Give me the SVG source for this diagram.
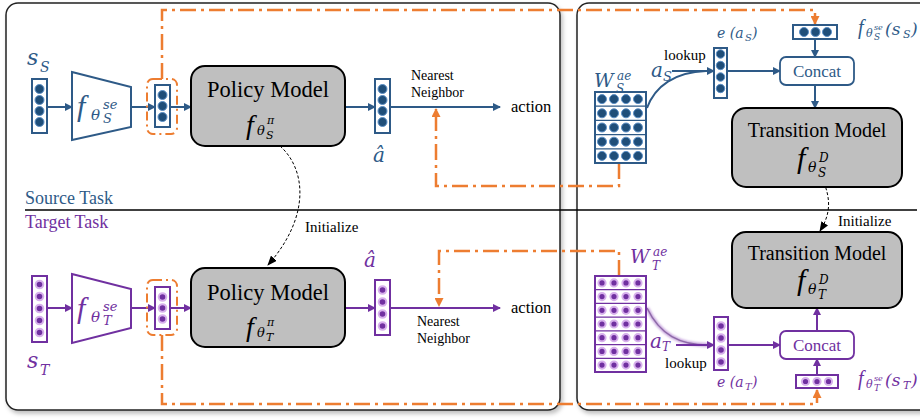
<svg xmlns="http://www.w3.org/2000/svg" width="920" height="419" viewBox="0 0 920 419">
<defs>
<filter id="sh" x="-5%" y="-5%" width="110%" height="110%"><feDropShadow dx="2" dy="3" stdDeviation="2" flood-color="#000" flood-opacity="0.25"/></filter>
<filter id="glow" x="-20%" y="-20%" width="140%" height="140%"><feGaussianBlur stdDeviation="1.2"/></filter>
<marker id="ab" markerWidth="8" markerHeight="8" refX="7" refY="4" orient="auto" markerUnits="userSpaceOnUse"><path d="M0,0 L8,4 L0,8 Z" fill="#2e5a87"/></marker>
<marker id="ap" markerWidth="8" markerHeight="8" refX="7" refY="4" orient="auto" markerUnits="userSpaceOnUse"><path d="M0,0 L8,4 L0,8 Z" fill="#7030a0"/></marker>
<marker id="ao" markerWidth="9" markerHeight="9" refX="8" refY="4.5" orient="auto" markerUnits="userSpaceOnUse"><path d="M0,0 L9,4.5 L0,9 Z" fill="#ed7d31"/></marker>
<marker id="ak" markerWidth="10" markerHeight="8" refX="9" refY="4" orient="auto" markerUnits="userSpaceOnUse"><path d="M0,0 L10,4 L0,8 Z" fill="#000"/></marker>
</defs>
<style>
.panel{fill:#fff;stroke:#222;stroke-width:1.5}
.box{fill:#bfbfbf;stroke:#000;stroke-width:2}
.vb{fill:#fff;stroke:#2e5a87;stroke-width:2}
.vp{fill:#fff;stroke:#7030a0;stroke-width:2}
.db{fill:#1f4e79;stroke:#5b8fc7;stroke-width:1}
.dp{fill:#7030a0;stroke:#d7b0ec;stroke-width:2}
.eb{stroke:#2e5a87;stroke-width:2;fill:none;marker-end:url(#ab)}
.ep{stroke:#7030a0;stroke-width:2;fill:none;marker-end:url(#ap)}
.or{stroke:#ed7d31;stroke-width:2.5;fill:none;stroke-dasharray:16 5 3 5}
.orb{stroke:#ed7d31;stroke-width:2;fill:none;stroke-dasharray:9 4 2 4}
.init{stroke:#000;stroke-width:1;fill:none;stroke-dasharray:3 2;marker-end:url(#ak)}
.t{font-family:"Liberation Serif","Times New Roman",serif;fill:#000}
.m{font-family:"DejaVu Serif",serif;font-style:italic}
.f{font-family:"Liberation Serif",serif;font-style:italic}
.mb{fill:#2e5a87}
.mp{fill:#7030a0}
.row{stroke-width:1.2}
</style>

<!-- panels -->
<g id="left-panel"><rect class="panel" x="6" y="3" width="554" height="407" rx="12" filter="url(#sh)"/></g>
<g id="right-panel"><rect class="panel" x="577" y="3" width="370" height="407" rx="12" filter="url(#sh)"/></g>
<line x1="25" y1="210" x2="917" y2="210" stroke="#000" stroke-width="1.5"/>
<text class="t" x="25" y="204" font-size="18" style="fill:#2e5a87">Source Task</text>
<text class="t" x="25" y="228" font-size="18" style="fill:#7030a0">Target Task</text>

<!-- connectors -->
<g id="connectors">
<line class="eb" x1="47" y1="107" x2="72" y2="107"/>
<line class="eb" x1="131" y1="107" x2="155" y2="107"/>
<line class="eb" x1="170" y1="107" x2="191" y2="107"/>
<line class="eb" x1="345" y1="107" x2="375" y2="107"/>
<line class="eb" x1="390" y1="107" x2="500" y2="107"/>
<line class="eb" x1="672" y1="71" x2="714" y2="71"/>
<path d="M647,108 C655,86 675,72 706,71" stroke="#2e5a87" stroke-width="2" fill="none"/>
<line class="eb" x1="727" y1="71" x2="780" y2="71"/>
<line class="eb" x1="815" y1="39" x2="815" y2="57"/>
<line class="eb" x1="815" y1="85" x2="815" y2="108"/>

<line class="ep" x1="47" y1="308" x2="72" y2="308"/>
<line class="ep" x1="131" y1="308" x2="155" y2="308"/>
<line class="ep" x1="170" y1="308" x2="191" y2="308"/>
<line class="ep" x1="345" y1="308" x2="375" y2="308"/>
<line class="ep" x1="390" y1="308" x2="500" y2="308"/>
<path d="M647,308 C660,335 680,345 708,345" stroke="#c8a6de" stroke-width="4" fill="none" filter="url(#glow)"/>
<path d="M647,308 C660,335 680,345 708,345" stroke="#8e6aa8" stroke-width="1.5" fill="none"/>
<line class="ep" x1="676" y1="345" x2="714" y2="345"/>
<line class="ep" x1="728" y1="345" x2="780" y2="345"/>
<line class="ep" x1="817" y1="375" x2="817" y2="359"/>
<line class="ep" x1="817" y1="331" x2="817" y2="308"/>

<path class="or" d="M162,79 V10 H815 V24" marker-end="url(#ao)"/>
<path class="or" d="M619,163 V186 H436 V109" marker-end="url(#ao)"/>
<path class="or" d="M619,276 V251 H439 V306" marker-end="url(#ao)"/>
<path class="or" d="M162,335 V404 H817 V390" marker-end="url(#ao)"/>

<path class="init" d="M280,146 C305,168 312,215 268,265"/>
<path class="init" d="M822,178 C832,200 830,215 820,231"/>
</g>

<!-- source row -->
<g id="s_S">
<text class="m mb" x="27" y="65" font-size="22">s</text><text class="m mb" x="40" y="72" font-size="14">S</text>
<rect class="vb" x="32" y="79" width="15" height="54"/>
<circle class="db" cx="39.5" cy="89" r="4.5"/><circle class="db" cx="39.5" cy="100" r="4.5"/><circle class="db" cx="39.5" cy="111" r="4.5"/><circle class="db" cx="39.5" cy="122" r="4.5"/>
</g>
<g id="encoder_S">
<polygon points="72,72 131,87 131,127 72,140" fill="#fff" stroke="#2e5a87" stroke-width="2"/>
<text class="f mb" x="77" y="116" font-size="30">f</text><text class="m mb" x="91" y="120" font-size="15">θ</text><text class="m mb" x="103" y="109" font-size="13">se</text><text class="m mb" x="103" y="123" font-size="13">S</text>
</g>
<g id="emb_S">
<rect class="orb" x="147" y="79" width="30" height="55" rx="6"/>
<rect class="vb" x="155" y="85" width="15" height="42"/>
<circle class="db" cx="162.5" cy="95" r="4.5"/><circle class="db" cx="162.5" cy="106" r="4.5"/><circle class="db" cx="162.5" cy="117" r="4.5"/>
</g>
<g id="policy_S">
<rect class="box" x="191" y="66" width="154" height="80" rx="14"/>
<text class="t" x="268" y="97" font-size="22.5" text-anchor="middle">Policy Model</text>
<text class="f" x="246" y="134" font-size="28">f</text><text class="m" x="257" y="135" font-size="13">θ</text><text class="m" x="267" y="124" font-size="11">π</text><text class="m" x="266" y="139" font-size="11">S</text>
</g>
<g id="ahat_S">
<rect class="vb" x="375" y="79" width="15" height="54"/>
<circle class="db" cx="382.5" cy="89" r="4.5"/><circle class="db" cx="382.5" cy="100" r="4.5"/><circle class="db" cx="382.5" cy="111" r="4.5"/><circle class="db" cx="382.5" cy="122" r="4.5"/>
<text class="m mb" x="373" y="162" font-size="20">â</text>
</g>
<g id="nn_S">
<text class="t" x="411" y="80" font-size="14">Nearest</text>
<text class="t" x="411" y="97" font-size="14">Neighbor</text>
<text class="t" x="511" y="112" font-size="16.5">action</text>
</g>
<g id="W_S">
<text class="m mb" x="594" y="87" font-size="19">W</text><text class="m mb" x="617" y="80" font-size="12">ae</text><text class="m mb" x="616" y="93" font-size="12">S</text>
<rect class="vb" x="595" y="92" width="51" height="71"/>
<g stroke="#2e5a87" class="row"><line x1="595" y1="106.2" x2="646" y2="106.2"/><line x1="595" y1="120.4" x2="646" y2="120.4"/><line x1="595" y1="134.6" x2="646" y2="134.6"/><line x1="595" y1="148.8" x2="646" y2="148.8"/></g>
<g>
<circle class="db" cx="602" cy="99.1" r="4.5"/><circle class="db" cx="614" cy="99.1" r="4.5"/><circle class="db" cx="626" cy="99.1" r="4.5"/><circle class="db" cx="638" cy="99.1" r="4.5"/>
<circle class="db" cx="602" cy="113.3" r="4.5"/><circle class="db" cx="614" cy="113.3" r="4.5"/><circle class="db" cx="626" cy="113.3" r="4.5"/><circle class="db" cx="638" cy="113.3" r="4.5"/>
<circle class="db" cx="602" cy="127.5" r="4.5"/><circle class="db" cx="614" cy="127.5" r="4.5"/><circle class="db" cx="626" cy="127.5" r="4.5"/><circle class="db" cx="638" cy="127.5" r="4.5"/>
<circle class="db" cx="602" cy="141.7" r="4.5"/><circle class="db" cx="614" cy="141.7" r="4.5"/><circle class="db" cx="626" cy="141.7" r="4.5"/><circle class="db" cx="638" cy="141.7" r="4.5"/>
<circle class="db" cx="602" cy="155.9" r="4.5"/><circle class="db" cx="614" cy="155.9" r="4.5"/><circle class="db" cx="626" cy="155.9" r="4.5"/><circle class="db" cx="638" cy="155.9" r="4.5"/>
</g>
</g>
<g id="lookup_S">
<text class="m mb" x="651" y="77" font-size="20">a</text><text class="m mb" x="663" y="81" font-size="13">S</text>
<text class="t" x="664" y="60" font-size="15">lookup</text>
</g>
<g id="e_S">
<text class="m mb" x="717" y="38" font-size="14">e (a</text><text class="m mb" x="745" y="41" font-size="10">S</text><text class="m mb" x="752" y="38" font-size="14">)</text>
<rect class="vb" x="714" y="48" width="13" height="50"/>
<circle class="db" cx="720.5" cy="54" r="4.2"/><circle class="db" cx="720.5" cy="65.5" r="4.2"/><circle class="db" cx="720.5" cy="77" r="4.2"/><circle class="db" cx="720.5" cy="88.5" r="4.2"/>
</g>
<g id="fs_S">
<rect class="vb" x="793" y="25" width="44" height="14"/>
<circle class="db" cx="804" cy="32" r="4.5"/><circle class="db" cx="815.5" cy="32" r="4.5"/><circle class="db" cx="827" cy="32" r="4.5"/>
<text class="f mb" x="858" y="34" font-size="20">f</text><text class="m mb" x="866" y="37" font-size="11">θ</text><text class="m mb" x="874" y="30" font-size="8">se</text><text class="m mb" x="874" y="40" font-size="9">S</text><text class="m mb" x="885" y="35" font-size="17">(s</text><text class="m mb" x="903" y="38" font-size="11">S</text><text class="m mb" x="911" y="35" font-size="17">)</text>
</g>
<g id="concat_S">
<rect x="780" y="57" width="74" height="28" rx="6" fill="#fff" stroke="#2e5a87" stroke-width="1.8"/>
<text class="t" x="817" y="77" font-size="17" text-anchor="middle" style="fill:#2e5a87">Concat</text>
</g>
<g id="transition_S">
<rect class="box" x="732" y="108" width="170" height="79" rx="14"/>
<text class="t" x="817" y="137" font-size="20" text-anchor="middle">Transition Model</text>
<text class="f" x="797" y="168" font-size="30">f</text><text class="m" x="808" y="172" font-size="14">θ</text><text class="m" x="819" y="162" font-size="12">D</text><text class="m" x="818" y="177" font-size="12">S</text>
</g>

<!-- target row -->
<g id="s_T">
<rect class="vp" x="32" y="276" width="15" height="66"/>
<circle class="dp" cx="39.5" cy="284.5" r="3.8"/><circle class="dp" cx="39.5" cy="296.5" r="3.8"/><circle class="dp" cx="39.5" cy="308.5" r="3.8"/><circle class="dp" cx="39.5" cy="320.5" r="3.8"/><circle class="dp" cx="39.5" cy="332.5" r="3.8"/>
<text class="m mp" x="27" y="368" font-size="22">s</text><text class="m mp" x="40" y="375" font-size="14">T</text>
</g>
<g id="encoder_T">
<polygon points="72,274 131,289 131,328 72,343" fill="#fff" stroke="#7030a0" stroke-width="2"/>
<text class="f mp" x="77" y="318" font-size="30">f</text><text class="m mp" x="91" y="322" font-size="15">θ</text><text class="m mp" x="103" y="311" font-size="13">se</text><text class="m mp" x="103" y="325" font-size="13">T</text>
</g>
<g id="emb_T">
<rect class="orb" x="147" y="280" width="30" height="55" rx="6"/>
<rect class="vp" x="155" y="287" width="15" height="42"/>
<circle class="dp" cx="162.5" cy="297" r="3.8"/><circle class="dp" cx="162.5" cy="308" r="3.8"/><circle class="dp" cx="162.5" cy="319" r="3.8"/>
</g>
<g id="policy_T">
<rect class="box" x="191" y="268" width="154" height="79" rx="14"/>
<text class="t" x="268" y="300" font-size="22.5" text-anchor="middle">Policy Model</text>
<text class="f" x="246" y="336" font-size="28">f</text><text class="m" x="257" y="337" font-size="13">θ</text><text class="m" x="267" y="326" font-size="11">π</text><text class="m" x="266" y="341" font-size="11">T</text>
</g>
<g id="ahat_T">
<text class="m mp" x="364" y="267" font-size="20">â</text>
<rect class="vp" x="375" y="280" width="15" height="55"/>
<circle class="dp" cx="382.5" cy="290" r="3.8"/><circle class="dp" cx="382.5" cy="302" r="3.8"/><circle class="dp" cx="382.5" cy="314" r="3.8"/><circle class="dp" cx="382.5" cy="326" r="3.8"/>
</g>
<g id="nn_T">
<text class="t" x="417" y="326" font-size="14">Nearest</text>
<text class="t" x="417" y="343" font-size="14">Neighbor</text>
<text class="t" x="511" y="313" font-size="16.5">action</text>
</g>
<g id="W_T">
<text class="m mp" x="630" y="263" font-size="19">W</text><text class="m mp" x="653" y="256" font-size="12">ae</text><text class="m mp" x="652" y="270" font-size="12">T</text>
<rect class="vp" x="595" y="276" width="51" height="96"/>
<g stroke="#7030a0" class="row"><line x1="595" y1="289.7" x2="646" y2="289.7"/><line x1="595" y1="303.4" x2="646" y2="303.4"/><line x1="595" y1="317.1" x2="646" y2="317.1"/><line x1="595" y1="330.9" x2="646" y2="330.9"/><line x1="595" y1="344.6" x2="646" y2="344.6"/><line x1="595" y1="358.3" x2="646" y2="358.3"/></g>
<g>
<circle class="dp" cx="602" cy="282.9" r="3.6"/><circle class="dp" cx="614" cy="282.9" r="3.6"/><circle class="dp" cx="626" cy="282.9" r="3.6"/><circle class="dp" cx="638" cy="282.9" r="3.6"/>
<circle class="dp" cx="602" cy="296.6" r="3.6"/><circle class="dp" cx="614" cy="296.6" r="3.6"/><circle class="dp" cx="626" cy="296.6" r="3.6"/><circle class="dp" cx="638" cy="296.6" r="3.6"/>
<circle class="dp" cx="602" cy="310.3" r="3.6"/><circle class="dp" cx="614" cy="310.3" r="3.6"/><circle class="dp" cx="626" cy="310.3" r="3.6"/><circle class="dp" cx="638" cy="310.3" r="3.6"/>
<circle class="dp" cx="602" cy="324" r="3.6"/><circle class="dp" cx="614" cy="324" r="3.6"/><circle class="dp" cx="626" cy="324" r="3.6"/><circle class="dp" cx="638" cy="324" r="3.6"/>
<circle class="dp" cx="602" cy="337.7" r="3.6"/><circle class="dp" cx="614" cy="337.7" r="3.6"/><circle class="dp" cx="626" cy="337.7" r="3.6"/><circle class="dp" cx="638" cy="337.7" r="3.6"/>
<circle class="dp" cx="602" cy="351.4" r="3.6"/><circle class="dp" cx="614" cy="351.4" r="3.6"/><circle class="dp" cx="626" cy="351.4" r="3.6"/><circle class="dp" cx="638" cy="351.4" r="3.6"/>
<circle class="dp" cx="602" cy="365.1" r="3.6"/><circle class="dp" cx="614" cy="365.1" r="3.6"/><circle class="dp" cx="626" cy="365.1" r="3.6"/><circle class="dp" cx="638" cy="365.1" r="3.6"/>
</g>
</g>
<g id="lookup_T">
<text class="m mp" x="650" y="348" font-size="20">a</text><text class="m mp" x="662" y="351" font-size="12">T</text>
<text class="t" x="665" y="368" font-size="15">lookup</text>
</g>
<g id="e_T">
<rect class="vp" x="714" y="317" width="14" height="53"/>
<circle class="dp" cx="721" cy="326" r="3.8"/><circle class="dp" cx="721" cy="338" r="3.8"/><circle class="dp" cx="721" cy="350" r="3.8"/><circle class="dp" cx="721" cy="362" r="3.8"/>
<text class="m mp" x="717" y="387" font-size="14">e (a</text><text class="m mp" x="745" y="390" font-size="10">T</text><text class="m mp" x="752" y="387" font-size="14">)</text>
</g>
<g id="fs_T">
<rect class="vp" x="796" y="375" width="42" height="13"/>
<circle class="dp" cx="805.5" cy="381.5" r="3.6"/><circle class="dp" cx="817" cy="381.5" r="3.6"/><circle class="dp" cx="828.5" cy="381.5" r="3.6"/>
<text class="f mp" x="858" y="385" font-size="20">f</text><text class="m mp" x="866" y="388" font-size="11">θ</text><text class="m mp" x="874" y="381" font-size="8">se</text><text class="m mp" x="874" y="391" font-size="9">T</text><text class="m mp" x="885" y="386" font-size="17">(s</text><text class="m mp" x="903" y="389" font-size="11">T</text><text class="m mp" x="911" y="386" font-size="17">)</text>
</g>
<g id="concat_T">
<rect x="780" y="331" width="74" height="28" rx="6" fill="#fff" stroke="#7030a0" stroke-width="1.8"/>
<text class="t" x="817" y="351" font-size="17" text-anchor="middle" style="fill:#7030a0">Concat</text>
</g>
<g id="transition_T">
<rect class="box" x="732" y="232" width="170" height="76" rx="14"/>
<text class="t" x="817" y="260" font-size="20" text-anchor="middle">Transition Model</text>
<text class="f" x="797" y="290" font-size="30">f</text><text class="m" x="808" y="294" font-size="14">θ</text><text class="m" x="819" y="284" font-size="12">D</text><text class="m" x="818" y="299" font-size="12">T</text>
</g>
<g id="labels">
<text class="t" x="305" y="232" font-size="15">Initialize</text>
<text class="t" x="838" y="226" font-size="15">Initialize</text>
</g>
</svg>
